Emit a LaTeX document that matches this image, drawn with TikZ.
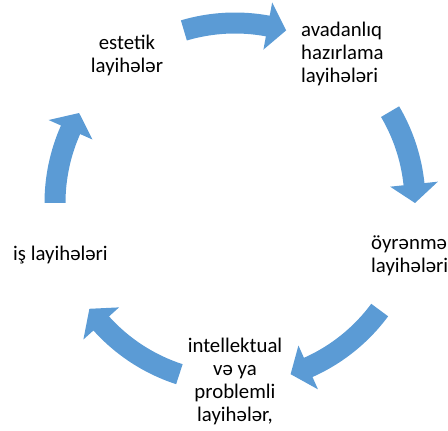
\documentclass[tikz,border=0pt]{standalone}
\usepackage{fontspec}
\setmainfont{Carlito}
\usepackage{xcolor}
\usetikzlibrary{
  positioning
}
\definecolor{cycleblue}{RGB}{91,155,213}
\tikzset{
  lbl/.style = {
    inner sep=0pt, text=black, font=\fontsize{20.8}{23}\selectfont
  },
  lblc/.style = {
    lbl, anchor=base, align=center
  },
  lbll/.style = {
    lbl, anchor=base west, align=left
  },
  pics/cyclearrow/.style 2 args = {
    code = {
      \fill [cycleblue] (#1:190.5pt)
        arc [start angle=#1, end angle=#2+6, radius=190.5pt]
        -- ({#2+6}:204pt) -- (#2:180pt) -- ({#2+6}:156pt) -- ({#2+6}:169.5pt)
        arc [start angle=#2+6, end angle=#1, radius=169.5pt]
        -- cycle;
    }
  }
}

\begin{document}
\begin{tikzpicture}[x=1pt, y=1pt]
  \useasboundingbox (0,0) rectangle (448,431);
  \coordinate (c) at (235,228);
  \path
    (127,358) node [lblc] (est) {estetik\\layihələr}
    (301,348) node [lbll] (avad) {avadanlıq\\hazırlama\\layihələri}
    (371,158) node [lbll] (oyr) {öyrənmə\\layihələri}
    (13,170) node [lbll] (is) {iş layihələri}
    (235,9) node [lblc] (intel) {intellektual\\və ya\\problemli\\layihələr,};
  \path
    (c) pic {cyclearrow={106.5}{73.5}}
    (c) pic {cyclearrow={30.5}{0}}
    (c) pic {cyclearrow={-36.5}{-72}}
    (c) pic {cyclearrow={-108}{-144}}
    (c) pic {cyclearrow={180}{150}};
\end{tikzpicture}
\end{document}
